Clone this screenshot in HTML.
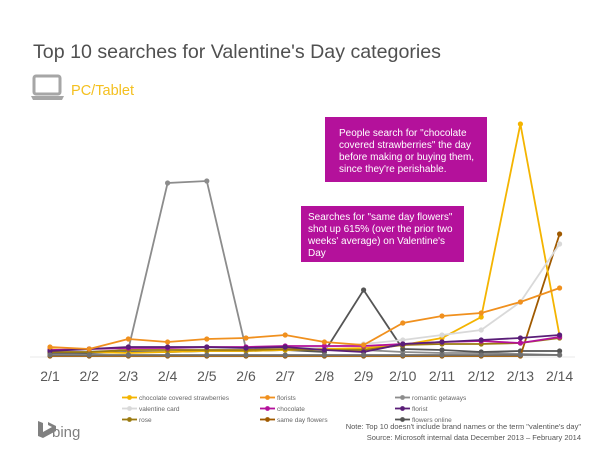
<!DOCTYPE html>
<html><head><meta charset="utf-8"><style>
body{margin:0;background:#fff;width:600px;height:450px;overflow:hidden;font-family:"Liberation Sans",sans-serif}
</style></head><body>
<svg width="600" height="450" xmlns="http://www.w3.org/2000/svg" font-family="Liberation Sans, sans-serif">
<rect width="600" height="450" fill="#fff"/>
<text x="33" y="58" font-size="19.5" fill="#505050" textLength="408" lengthAdjust="spacingAndGlyphs">Top 10 searches for Valentine's Day categories</text>
<rect x="34" y="76" width="26" height="18" rx="2" fill="none" stroke="#a6a6a6" stroke-width="3"/>
<path d="M31 96 h33 l-2 4 h-29z" fill="#a6a6a6"/>
<text x="71" y="95" font-size="14.5" fill="#f4c020" textLength="63" lengthAdjust="spacingAndGlyphs">PC/Tablet</text>
<line x1="30" y1="357" x2="575" y2="357" stroke="#e8e8e8" stroke-width="1"/>
<g id="series" fill="none" stroke-width="1.8"></g>
<g font-size="14" fill="#595959" text-anchor="middle" id="ticks"></g>
<rect x="325" y="117" width="162" height="65" fill="#b4119b"/>
<text font-size="10" fill="#fff"><tspan x="339" y="136">People search for "chocolate</tspan><tspan x="339" y="148">covered strawberries" the day</tspan><tspan x="339" y="160">before making or buying them,</tspan><tspan x="339" y="172">since they're perishable.</tspan></text>
<rect x="301" y="206" width="163" height="56" fill="#b4119b"/>
<text font-size="10" fill="#fff"><tspan x="308" y="220">Searches for "same day flowers"</tspan><tspan x="308" y="232">shot up 615% (over the prior two</tspan><tspan x="308" y="244">weeks' average) on Valentine's</tspan><tspan x="308" y="256">Day</tspan></text>
<g font-size="6.5" fill="#666" id="legend"></g>
<path d="M38 421 l5 2 v9 l9 -5 l-4 -2 v-3 l8 4 v5 l-13 7 l-5 -2z" fill="#808080"/>
<text x="52" y="437" font-size="15" fill="#808080">bing</text>
<text x="581" y="429" font-size="7.5" fill="#555" text-anchor="end">Note: Top 10 doesn't include brand names or the term "valentine's day"</text>
<text x="581" y="440" font-size="7.5" fill="#555" text-anchor="end">Source:  Microsoft internal data December 2013 – February 2014</text>
</svg>
<script>
const S=[
["#8c8c8c",[352,353,349,183,181,349,350,349,350,352,353,353,354,355]],
["#555555",[353,353,352,352,351,351,350,352,290,349,350,352,351,351]],
["#a05a00",[356,356,356,356,356,356,356,356,356,356,356,356,356,234]],
["#f4b400",[349,352,353,352,351,351,350,349,348,345,338,317,124,336]],
["#d9d9d9",[350,351,350,349,348,348,348,347,344,340,335,330,302,244]],
["#9b7a10",[352,352,350,350,350,350,349,350,350,345,344,344,343,338]],
["#b4119b",[350,349,348,348,347,347,346,346,346,344,342,341,343,337]],
["#5a1e78",[351,349,347,347,347,348,347,350,352,344,342,340,338,335]],
["#f0901e",[347,349,339,342,339,338,335,342,345,323,316,313,302,288]],
["#707070",[355,355,355,355,355,355,355,355,355,355,355,355,355,355]]];
const ns="http://www.w3.org/2000/svg";
const g=document.getElementById('series');
const X=i=>50+39.2*i;
for(const [c,d] of S){
 const p=document.createElementNS(ns,'polyline');
 p.setAttribute('points',d.map((y,i)=>X(i)+','+y).join(' '));p.setAttribute('stroke',c);g.appendChild(p);
 d.forEach((y,i)=>{const e=document.createElementNS(ns,'circle');e.setAttribute('cx',X(i));e.setAttribute('cy',y);e.setAttribute('r',2.6);e.setAttribute('fill',c);e.setAttribute('stroke','none');g.appendChild(e);});
}
const t=document.getElementById('ticks');
for(let i=0;i<14;i++){const e=document.createElementNS(ns,'text');e.setAttribute('x',X(i));e.setAttribute('y',381);e.textContent='2/'+(i+1);t.appendChild(e);}
const L=[["chocolate covered strawberries","#f4b400",140,400],["florists","#f0901e",278,400],["romantic getaways","#8c8c8c",413,400],
["valentine card","#d9d9d9",140,411],["chocolate","#b4119b",278,411],["florist","#5a1e78",413,411],
["rose","#9b7a10",140,422],["same day flowers","#a05a00",278,422],["flowers online","#555555",413,422]];
const lg=document.getElementById('legend');
for(const [n,c,x,y] of L){
 const l=document.createElementNS(ns,'line');l.setAttribute('x1',x-18);l.setAttribute('x2',x-3);l.setAttribute('y1',y-2.5);l.setAttribute('y2',y-2.5);l.setAttribute('stroke',c);l.setAttribute('stroke-width',1.8);lg.appendChild(l);
 const e=document.createElementNS(ns,'circle');e.setAttribute('cx',x-10.5);e.setAttribute('cy',y-2.5);e.setAttribute('r',2.4);e.setAttribute('fill',c);lg.appendChild(e);
 const tx=document.createElementNS(ns,'text');tx.setAttribute('x',x-1);tx.setAttribute('y',y);tx.textContent=n;lg.appendChild(tx);
}
</script>
</body></html>
